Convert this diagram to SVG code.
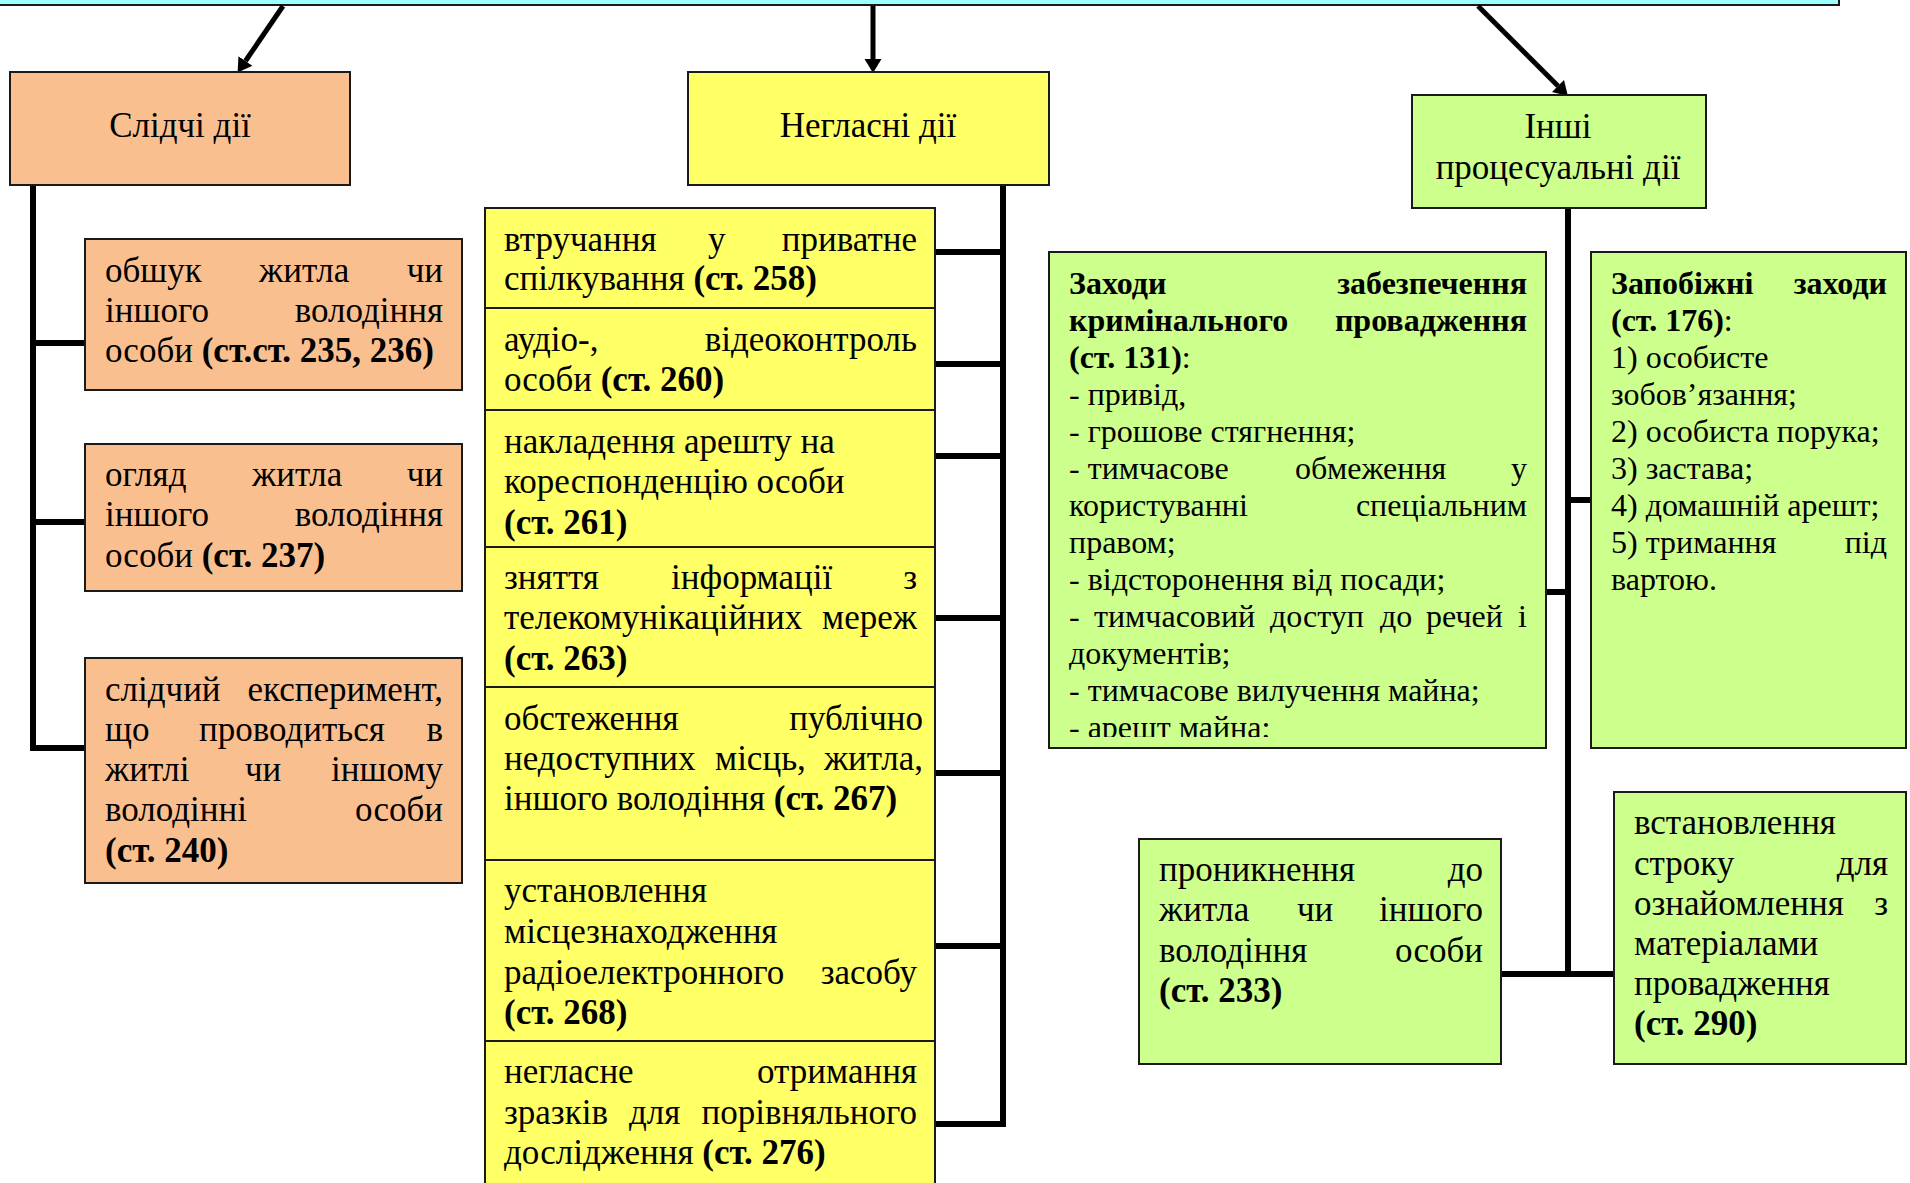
<svg xmlns="http://www.w3.org/2000/svg" width="1910" height="1183" viewBox="0 0 1910 1183">
<style>
.box{stroke:#1a1a1a;stroke-width:2}
.or{fill:#FABF8F}
.ye{fill:#FFFF66}
.gr{fill:#CCFF8C}
.cy{fill:#99FFFF}
.t{font-family:"Liberation Serif","Times New Roman",serif;font-size:35px;fill:#000}
.s{font-size:32px}
.b{font-weight:bold}
.e{text-anchor:end}
.m{text-anchor:middle}
.ln{stroke:#000;stroke-width:6;fill:none;stroke-linecap:square}
.ar{stroke:#000;stroke-width:5;fill:none}
</style>
<defs>
<marker id="ah" markerUnits="userSpaceOnUse" markerWidth="16" markerHeight="18" refX="0" refY="8.5" orient="auto">
<path d="M0,0 L14,8.5 L0,17 Z" fill="#000"/>
</marker>
<clipPath id="clipZ"><rect x="1049" y="252" width="497" height="485"/></clipPath>
</defs>

<g id="top">
<rect class="box cy" x="-5" y="-50" width="1844" height="55"/>
</g>

<g id="connectors">
<line class="ar" x1="283" y1="6" x2="245.5" y2="61" marker-end="url(#ah)"/>
<line class="ar" x1="873" y1="6" x2="873" y2="59" marker-end="url(#ah)"/>
<line class="ar" x1="1478" y1="6" x2="1558" y2="86" marker-end="url(#ah)"/>
<path class="ln" d="M33,186 V748 H85 M33,343 H85 M33,522 H85"/>
<path class="ln" d="M1003,186 V1124 H936 M936,252 H1003 M936,364 H1003 M936,456 H1003 M936,618 H1003 M936,773 H1003 M936,946 H1003"/>
<path class="ln" d="M1568,209 V974 M1502,974 H1614 M1547,592 H1568 M1568,500 H1591"/>
</g>

<g id="n-slidchi">
<rect class="box or" x="10" y="72" width="340" height="113"/>
<text class="t m" x="180" y="137">Слідчі дії</text>
</g>
<g id="n-neglasni">
<rect class="box ye" x="688" y="72" width="361" height="113"/>
<text class="t m" x="868" y="137">Негласні дії</text>
</g>
<g id="n-inshi">
<rect class="box gr" x="1412" y="95" width="294" height="113"/>
<text class="t m" x="1558" y="138">Інші</text>
<text class="t m" x="1558" y="179">процесуальні дії</text>
</g>

<g id="n-obshuk">
<rect class="box or" x="85" y="239" width="377" height="151"/>
<text class="t" x="105" y="282">обшук</text><text class="t" x="259" y="282">житла</text><text class="t e" x="443" y="282">чи</text>
<text class="t" x="105" y="322">іншого</text><text class="t e" x="443" y="322">володіння</text>
<text class="t" x="105" y="362">особи <tspan class="b">(ст.ст. 235, 236)</tspan></text>
</g>
<g id="n-ohliad">
<rect class="box or" x="85" y="444" width="377" height="147"/>
<text class="t" x="105" y="486">огляд</text><text class="t" x="252" y="486">житла</text><text class="t e" x="443" y="486">чи</text>
<text class="t" x="105" y="526">іншого</text><text class="t e" x="443" y="526">володіння</text>
<text class="t" x="105" y="567">особи <tspan class="b">(ст. 237)</tspan></text>
</g>
<g id="n-eksperyment">
<rect class="box or" x="85" y="658" width="377" height="225"/>
<text class="t" x="105" y="701">слідчий</text><text class="t e" x="443" y="701">експеримент,</text>
<text class="t" x="105" y="741">що</text><text class="t" x="199" y="741">проводиться</text><text class="t e" x="443" y="741">в</text>
<text class="t" x="105" y="781">житлі</text><text class="t" x="245" y="781">чи</text><text class="t e" x="443" y="781">іншому</text>
<text class="t" x="105" y="821">володінні</text><text class="t e" x="443" y="821">особи</text>
<text class="t b" x="105" y="862">(ст. 240)</text>
</g>

<g id="n-258">
<rect class="box ye" x="485" y="208" width="450" height="100"/>
<text class="t" x="504" y="251">втручання</text><text class="t" x="708" y="251">у</text><text class="t e" x="917" y="251">приватне</text>
<text class="t" x="504" y="290">спілкування <tspan class="b">(ст. 258)</tspan></text>
</g>
<g id="n-260">
<rect class="box ye" x="485" y="308" width="450" height="102"/>
<text class="t" x="504" y="351">аудіо-,</text><text class="t e" x="917" y="351">відеоконтроль</text>
<text class="t" x="504" y="391">особи <tspan class="b">(ст. 260)</tspan></text>
</g>
<g id="n-261">
<rect class="box ye" x="485" y="410" width="450" height="137"/>
<text class="t" x="504" y="453">накладення арешту на</text>
<text class="t" x="504" y="493">кореспонденцію особи</text>
<text class="t b" x="504" y="534">(ст. 261)</text>
</g>
<g id="n-263">
<rect class="box ye" x="485" y="547" width="450" height="140"/>
<text class="t" x="504" y="589">зняття</text><text class="t" x="671" y="589">інформації</text><text class="t e" x="917" y="589">з</text>
<text class="t" x="504" y="629">телекомунікаційних</text><text class="t e" x="917" y="629">мереж</text>
<text class="t b" x="504" y="670">(ст. 263)</text>
</g>
<g id="n-267">
<rect class="box ye" x="485" y="687" width="450" height="173"/>
<text class="t" x="504" y="730">обстеження</text><text class="t e" x="923" y="730">публічно</text>
<text class="t" x="504" y="770">недоступних</text><text class="t" x="715" y="770">місць,</text><text class="t e" x="923" y="770">житла,</text>
<text class="t" x="504" y="810">іншого володіння <tspan class="b">(ст. 267)</tspan></text>
</g>
<g id="n-268">
<rect class="box ye" x="485" y="860" width="450" height="181"/>
<text class="t" x="504" y="902">установлення</text>
<text class="t" x="504" y="943">місцезнаходження</text>
<text class="t" x="504" y="984">радіоелектронного</text><text class="t e" x="917" y="984">засобу</text>
<text class="t b" x="504" y="1024">(ст. 268)</text>
</g>
<g id="n-276">
<rect class="box ye" x="485" y="1041" width="450" height="160"/>
<text class="t" x="504" y="1083">негласне</text><text class="t e" x="917" y="1083">отримання</text>
<text class="t" x="504" y="1124">зразків</text><text class="t" x="629" y="1124">для</text><text class="t e" x="917" y="1124">порівняльного</text>
<text class="t" x="504" y="1164">дослідження <tspan class="b">(ст. 276)</tspan></text>
</g>

<g id="n-zakhody">
<rect class="box gr" x="1049" y="252" width="497" height="496"/>
<g clip-path="url(#clipZ)">
<text class="t s b" x="1069" y="294">Заходи</text><text class="t s b e" x="1527" y="294">забезпечення</text>
<text class="t s b" x="1069" y="331">кримінального</text><text class="t s b e" x="1527" y="331">провадження</text>
<text class="t s" x="1069" y="368"><tspan class="b">(ст. 131)</tspan>:</text>
<text class="t s" x="1069" y="405">- привід,</text>
<text class="t s" x="1069" y="442">- грошове стягнення;</text>
<text class="t s" x="1069" y="479">- тимчасове</text><text class="t s" x="1295" y="479">обмеження</text><text class="t s e" x="1527" y="479">у</text>
<text class="t s" x="1069" y="516">користуванні</text><text class="t s e" x="1527" y="516">спеціальним</text>
<text class="t s" x="1069" y="553">правом;</text>
<text class="t s" x="1069" y="590">- відсторонення від посади;</text>
<text class="t s" x="1069" y="627">-</text><text class="t s" x="1094" y="627">тимчасовий</text><text class="t s" x="1270" y="627">доступ</text><text class="t s" x="1380" y="627">до</text><text class="t s" x="1426" y="627">речей</text><text class="t s e" x="1527" y="627">і</text>
<text class="t s" x="1069" y="664">документів;</text>
<text class="t s" x="1069" y="701">- тимчасове вилучення майна;</text>
<text class="t s" x="1069" y="738">- арешт майна;</text>
</g>
</g>

<g id="n-zapobizhni">
<rect class="box gr" x="1591" y="252" width="315" height="496"/>
<text class="t s b" x="1611" y="294">Запобіжні</text><text class="t s b e" x="1887" y="294">заходи</text>
<text class="t s" x="1611" y="331"><tspan class="b">(ст. 176)</tspan>:</text>
<text class="t s" x="1611" y="368">1) особисте</text>
<text class="t s" x="1611" y="405">зобов’язання;</text>
<text class="t s" x="1611" y="442">2) особиста порука;</text>
<text class="t s" x="1611" y="479">3) застава;</text>
<text class="t s" x="1611" y="516">4) домашній арешт;</text>
<text class="t s" x="1611" y="553">5) тримання</text><text class="t s e" x="1887" y="553">під</text>
<text class="t s" x="1611" y="590">вартою.</text>
</g>

<g id="n-233">
<rect class="box gr" x="1139" y="839" width="362" height="225"/>
<text class="t" x="1159" y="881">проникнення</text><text class="t e" x="1483" y="881">до</text>
<text class="t" x="1159" y="921">житла</text><text class="t" x="1297" y="921">чи</text><text class="t e" x="1483" y="921">іншого</text>
<text class="t" x="1159" y="962">володіння</text><text class="t e" x="1483" y="962">особи</text>
<text class="t b" x="1159" y="1002">(ст. 233)</text>
</g>

<g id="n-290">
<rect class="box gr" x="1614" y="792" width="292" height="272"/>
<text class="t" x="1634" y="834">встановлення</text>
<text class="t" x="1634" y="875">строку</text><text class="t e" x="1888" y="875">для</text>
<text class="t" x="1634" y="915">ознайомлення</text><text class="t e" x="1888" y="915">з</text>
<text class="t" x="1634" y="955">матеріалами</text>
<text class="t" x="1634" y="995">провадження</text>
<text class="t b" x="1634" y="1035">(ст. 290)</text>
</g>
</svg>
